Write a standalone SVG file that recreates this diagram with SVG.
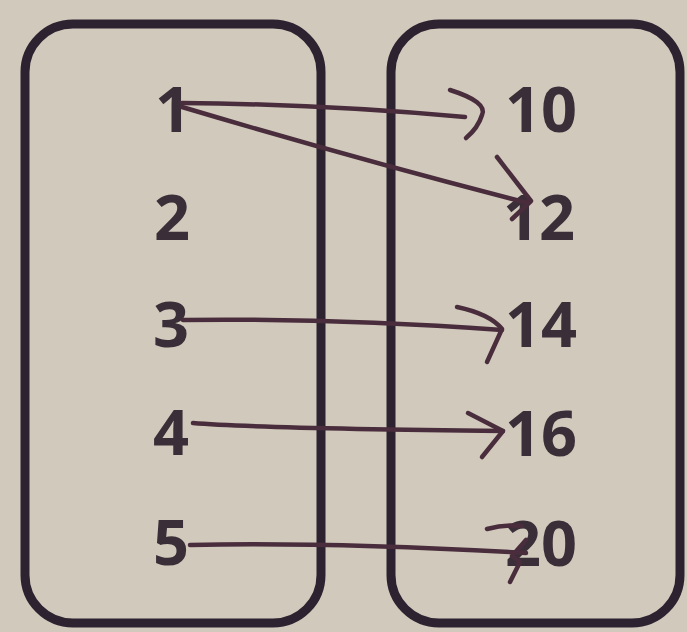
<svg xmlns="http://www.w3.org/2000/svg" width="687" height="632" viewBox="0 0 687 632">
<style>
.bg{fill:#d1cabc}
.box{fill:none;stroke:#2d2230;stroke-width:9}
.num{font-family:"Open Sans","Liberation Sans",sans-serif;font-weight:700;font-size:63px;fill:#3a2f38}
.l{text-anchor:middle}
.r{text-anchor:start}
.c{fill:none;stroke:#4a2d3d;stroke-width:4.5;stroke-linecap:round;stroke-linejoin:round}
</style>
<rect class="bg" x="0" y="0" width="687" height="632"/>
<g id="domain"><rect class="box" x="25" y="24" width="296" height="599" rx="48"/></g>
<g id="range"><rect class="box" x="391" y="24" width="289" height="599" rx="48"/></g>
<g id="n1"><text class="num l" x="173" y="132">1</text></g>
<g id="n2"><text class="num l" x="172" y="240">2</text></g>
<g id="n3"><text class="num l" x="171" y="347">3</text></g>
<g id="n4"><text class="num l" x="171" y="455">4</text></g>
<g id="n5"><text class="num l" x="171" y="565">5</text></g>
<g id="n10"><text class="num r" x="505" y="132">10</text></g>
<g id="n12"><text class="num r" x="503" y="240">12</text></g>
<g id="n14"><text class="num r" x="505" y="347">14</text></g>
<g id="n16"><text class="num r" x="505" y="456">16</text></g>
<g id="n20"><text class="num r" x="505" y="566">20</text></g>
<g id="connectors">
<path class="c" d="M182 103 Q320 104 465 117"/>
<path class="c" d="M450 90 Q488 102 482 115 Q478 128 466 138"/>
<path class="c" d="M182 107 Q360 160 528 203"/>
<path class="c" d="M497 157 L531 201 L512 219"/>
<path class="c" d="M183 320 Q330 318 502 330"/>
<path class="c" d="M457 307 Q490 314 502 329 L487 362"/>
<path class="c" d="M193 423 Q250 428 503 431"/>
<path class="c" d="M468 413 L503 431 L482 457"/>
<path class="c" d="M190 545 Q330 542 526 553"/>
<path class="c" d="M487 529 Q505 524 522 526"/>
<path class="c" d="M526 540 L512 556 L520 562 L510 582"/>
</g>
</svg>
